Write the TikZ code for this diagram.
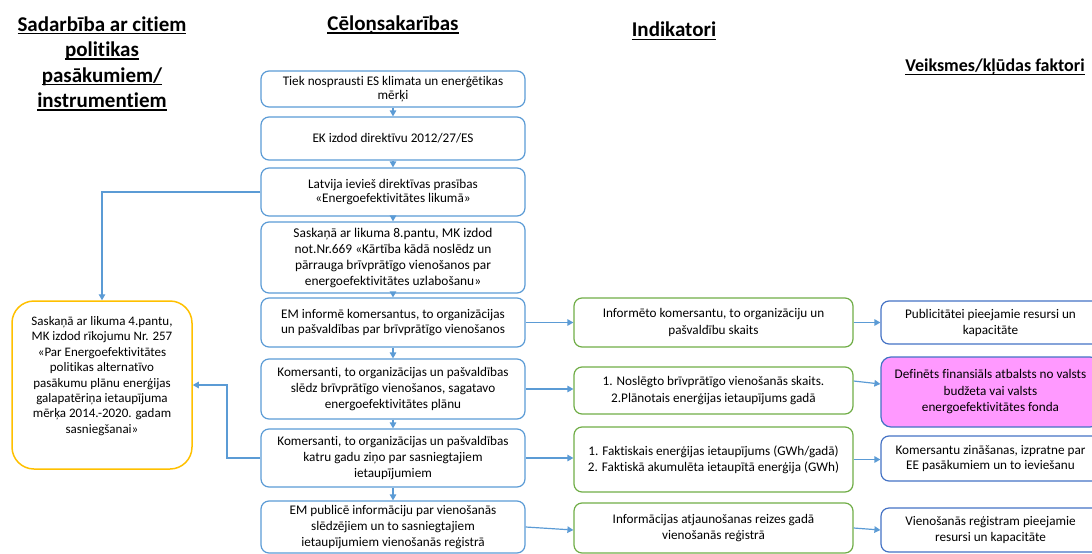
\documentclass[tikz,border=0pt]{standalone}
\usepackage{fontspec}
\setmainfont{Carlito}[Ligatures=NoCommon]
\usetikzlibrary{arrows.meta}
\definecolor{flowblue}{RGB}{91,155,213}
\definecolor{edgeblue}{RGB}{68,114,196}
\definecolor{indgreen}{RGB}{112,173,71}
\definecolor{policygold}{RGB}{255,192,0}
\definecolor{supportpink}{RGB}{255,153,255}
% heading underline at a fixed depth below the baseline
\newcommand{\hdul}[1]{\leavevmode\setbox0=\hbox{#1}\rlap{\rule[-3.2pt]{\wd0}{1.3pt}}\box0}

\begin{document}
\begin{tikzpicture}[x=1pt,y=-1pt,
  box/.style={draw, rounded corners=8pt, line width=1.2pt, align=center,
    inner sep=2pt, font=\fontsize{13.2}{15.8}\selectfont},
  causebox/.style={box, draw=flowblue, minimum width=264pt},
  indbox/.style={box, draw=indgreen, minimum width=279pt},
  factorbox/.style={box, draw=edgeblue, minimum width=219pt},
  policybox/.style={draw=policygold, line width=1.5pt, rounded corners=22pt,
    minimum width=180pt, minimum height=168pt},
  arr/.style={draw=flowblue, line width=1.2pt, -{Triangle[length=6pt,width=6.5pt]}},
  head/.style={font=\fontsize{21}{25.5}\selectfont\bfseries, align=center}
]
\useasboundingbox (0,0) rectangle (1092,554);

% column headings
\node[head] (hpolicy) at (102,63.5) {\hdul{Sadarbība ar citiem}\\\hdul{politikas}\\\hdul{pasākumiem/}\\\hdul{instrumentiem}};
\node[head] (hcause) at (393,25) {\hdul{Cēloņsakarības}};
\node[head] (hind) at (674,31) {\hdul{Indikatori}};
\node[head, font=\fontsize{18}{22}\selectfont\bfseries] (hfactor) at (995,67) {\hdul{Veiksmes/kļūdas faktori}};

% causal chain
\node[causebox, minimum height=36pt, font=\fontsize{13.2}{13.3}\selectfont] (c1) at (393,89)
  {Tiek nosprausti ES klimata un enerģētikas\\mērķi};
\node[causebox, minimum height=43pt] (c2) at (393,138.5) {EK izdod direktīvu 2012/27/ES};
\node[causebox, minimum height=48pt, font=\fontsize{13.2}{13.3}\selectfont] (c3) at (393,192)
  {Latvija ievieš direktīvas prasības\\«Energoefektivitātes likumā»};
\node[causebox, minimum height=71pt, inner sep=0pt, font=\fontsize{13.4}{16}\selectfont] (c4) at (393,257.5)
  {Saskaņā ar likuma 8.pantu, MK izdod\\not.Nr.669 «Kārtība kādā noslēdz un\\pārrauga brīvprātīgo vienošanos par\\energoefektivitātes uzlabošanu»};
\node[causebox, minimum height=49pt, font=\fontsize{13.2}{15}\selectfont] (c5) at (393,322.5)
  {EM informē komersantus, to organizācijas\\un pašvaldības par brīvprātīgo vienošanos};
\node[causebox, minimum height=60pt] (c6) at (393,389)
  {Komersanti, to organizācijas un pašvaldības\\slēdz brīvprātīgo vienošanos, sagatavo\\energoefektivitātes plānu};
\node[causebox, minimum height=58pt] (c7) at (393,458)
  {Komersanti, to organizācijas un pašvaldības\\katru gadu ziņo par sasniegtajiem\\ietaupījumiem};
\node[causebox, minimum height=52pt] (c8) at (393,527)
  {EM publicē informāciju par vienošanās\\slēdzējiem un to sasniegtajiem\\ietaupījumiem vienošanās reģistrā};

% related policy instrument
\node[policybox] (yl) at (102,385) {};
\node[align=center, inner sep=0pt, font=\fontsize{13}{15.4}\selectfont] (yltext) at (102,376)
  {Saskaņā ar likuma 4.pantu,\\MK izdod rīkojumu Nr. 257\\«Par Energoefektivitātes\\politikas alternatīvo\\pasākumu plānu enerģijas\\galapatēriņa ietaupījuma\\mērķa 2014.-2020. gadam\\sasniegšanai»};

% indicators
\node[indbox, minimum height=49pt, font=\fontsize{13.2}{16.5}\selectfont] (g1) at (713.5,322.5)
  {Informēto komersantu, to organizāciju un\\pašvaldību skaits};
\node[indbox, minimum height=47pt, font=\fontsize{13.2}{16.5}\selectfont] (g2) at (713.5,390.5)
  {1. Noslēgto brīvprātīgo vienošanās skaits.\\2.Plānotais enerģijas ietaupījums gadā};
\node[indbox, minimum height=65pt] (g3) at (713.5,459.5)
  {1. Faktiskais enerģijas ietaupījums (GWh/gadā)\\2. Faktiskā akumulēta ietaupītā enerģija (GWh)};
\node[indbox, minimum height=50pt, font=\fontsize{13.2}{16.5}\selectfont] (g4) at (713.5,528)
  {Informācijas atjaunošanas reizes gadā\\vienošanās reģistrā};

% success / failure factors
\node[factorbox, minimum height=43pt, font=\fontsize{13.2}{16}\selectfont] (r1) at (990.5,322.5)
  {Publicitātei pieejamie resursi un\\kapacitāte};
\node[factorbox, fill=supportpink, rounded corners=10pt, minimum height=70pt, font=\fontsize{13.2}{16.5}\selectfont] (r2) at (990.5,392)
  {Definēts finansiāls atbalsts no valsts\\budžeta vai valsts\\energoefektivitātes fonda};
\node[factorbox, minimum height=45pt] (r3) at (990.5,458.5)
  {Komersantu zināšanas, izpratne par\\EE pasākumiem un to ieviešanu};
\node[factorbox, minimum height=44pt] (r4) at (990.5,530)
  {Vienošanās reģistram pieejamie\\resursi un kapacitāte};

% chain arrows
\foreach \a/\b in {c1/c2,c2/c3,c3/c4,c4/c5,c5/c6,c6/c7,c7/c8}
  \draw[arr] (\a.south) -- (\b.north);

% links to the policy instrument
\draw[arr] (c3.west) -| (yl.north);
\coordinate (bend) at (227,458);
\draw[arr] (c7.west) -- (bend) |- (yl.east);

% causes to indicators
\draw[arr] (c5.east) -- (c5.east -| g1.west);
\draw[arr] (c6.east) -- (c6.east -| g2.west);
\draw[arr] (c7.east) -- (c7.east -| g3.west);
\draw[arr] (c8.east) -- ([yshift=-3pt]c8.east -| g4.west);

% indicators to factors
\draw[arr] (g1.east) -- (g1.east -| r1.west);
\draw[arr] ([yshift=9.5pt]g2.east) -- ([yshift=8pt]r2.west);
\draw[arr] (g3.east) -- (g3.east -| r3.west);
\draw[arr] (g4.east) -- (r4.west);
\end{tikzpicture}
\end{document}
